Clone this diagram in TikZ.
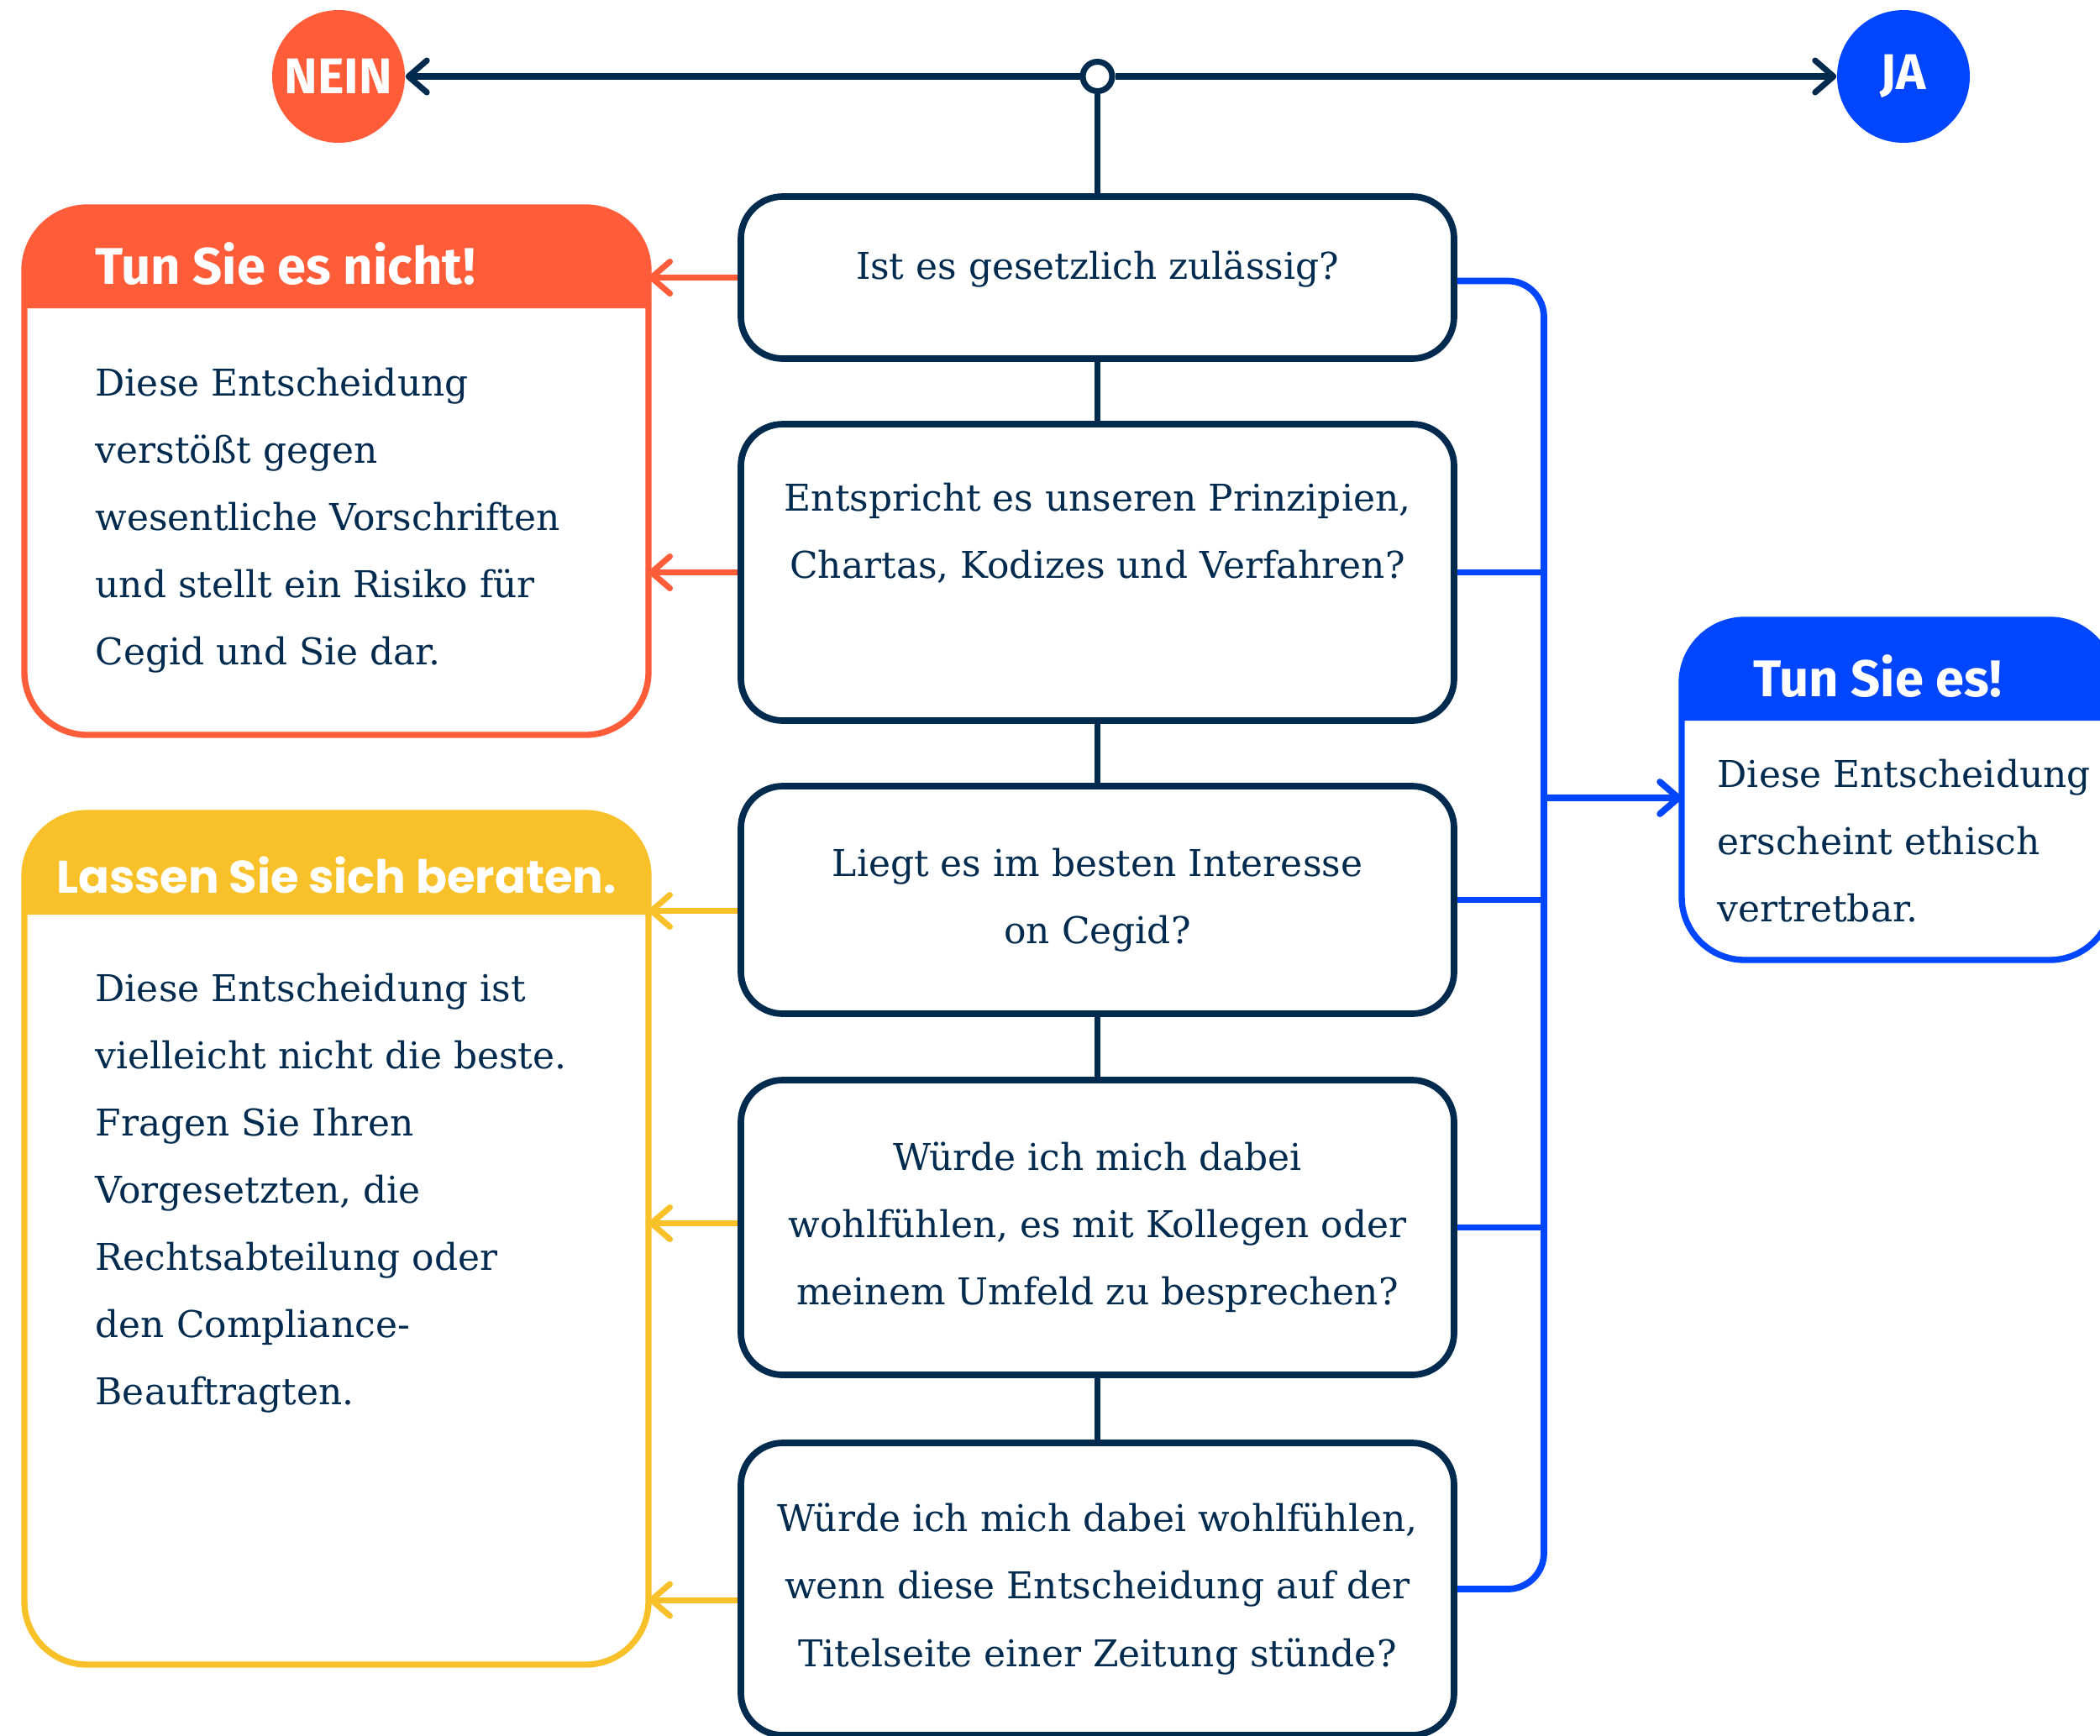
\documentclass[tikz,border=0pt]{standalone}
\usepackage{fontspec}
\setmainfont{DejaVu Serif}
\newfontfamily\headfont{Fira Sans}
\newfontfamily\roundfont{Poppins}
\usepackage{tikz}
\usetikzlibrary{arrows.meta}
\definecolor{navy}{RGB}{0,43,79}
\definecolor{nored}{RGB}{255,92,57}
\definecolor{advyellow}{RGB}{248,193,42}
\definecolor{yesblue}{RGB}{0,70,255}
\tikzstyle{question} = [rectangle, rounded corners=0.5cm, minimum width=8.49cm, draw=navy, line width=2.2pt, text=navy, align=center, font=\fontsize{12.5}{22.8}\selectfont]
\tikzstyle{sidebox}  = [rectangle, rounded corners=0.75cm, line width=2.1pt, outer sep=0pt]
\tikzstyle{answer}   = [circle, minimum size=1.58cm, inner sep=0pt, text=white, font=\headfont\bfseries\fontsize{17}{20}\selectfont]
\tikzstyle{title}    = [anchor=west, inner sep=0pt, text=white, font=\headfont\bfseries\fontsize{17.5}{20}\selectfont]
\tikzstyle{bodytext} = [anchor=north west, inner sep=0pt, text=navy, align=left, font=\fontsize{12.5}{22.8}\selectfont]
\tikzstyle{link}     = [navy, line width=2.1pt]
\tikzstyle{yesline}  = [yesblue, line width=2.2pt]
\tikzstyle{arrow}    = [line width=2pt, ->, >={Straight Barb[length=2.2mm, width=3.8mm, round]}]

\begin{document}
\begin{tikzpicture}[]
      \useasboundingbox (0,0) rectangle (25,-20.66);
      % Nodes
      %% Decision at the top
      \node (junction)    [circle, draw=navy, line width=2pt, fill=white, minimum size=0.35cm, inner sep=0pt] at (13.065,-0.91) {};
      \node (nein_circle) [answer, fill=nored]   at (4.03,-0.91)  {NEIN};
      \node (ja_circle)   [answer, fill=yesblue] at (22.66,-0.91) {JA};
      %% Questions
      \node (q_legal)      [question, minimum height=1.93cm, text depth=0.3cm] at (13.065,-3.305) {Ist es gesetzlich zulässig?};
      \node (q_principles) [question, minimum height=3.53cm, text depth=1cm, below of=q_legal, yshift=-2.51cm] {Entspricht es unseren Prinzipien,\\Chartas, Kodizes und Verfahren?};
      \node (q_interest)   [question, minimum height=2.71cm, below of=q_principles, yshift=-2.90cm] {Liegt es im besten Interesse\\on Cegid?};
      \node (q_colleagues) [question, minimum height=3.51cm, below of=q_interest, yshift=-2.90cm] {Würde ich mich dabei\\wohlfühlen, es mit Kollegen oder\\meinem Umfeld zu besprechen?};
      \node (q_newspaper)  [question, minimum height=3.48cm, below of=q_colleagues, yshift=-3.305cm] {Würde ich mich dabei wohlfühlen,\\wenn diese Entscheidung auf der\\Titelseite einer Zeitung stünde?};
      %% Answers
      \node (no_box)     [sidebox, draw=nored, minimum width=7.43cm, minimum height=6.28cm] at (4.005,-5.61) {};
      \node (advice_box) [sidebox, draw=advyellow, minimum width=7.43cm, minimum height=10.14cm] at (4.005,-14.75) {};
      \node (yes_box)    [sidebox, draw=yesblue, minimum width=5.13cm, minimum height=4.05cm] at (22.585,-9.405) {};
      \fill[nored] ([yshift=-1.2cm]no_box.north west) [rounded corners=0.75cm] -- (no_box.north west) -- (no_box.north east) [sharp corners] -- ([yshift=-1.2cm]no_box.north east) -- cycle;
      \fill[advyellow] ([yshift=-1.21cm]advice_box.north west) [rounded corners=0.75cm] -- (advice_box.north west) -- (advice_box.north east) [sharp corners] -- ([yshift=-1.21cm]advice_box.north east) -- cycle;
      \fill[yesblue] ([yshift=-1.2cm]yes_box.north west) [rounded corners=0.75cm] -- (yes_box.north west) -- (yes_box.north east) [sharp corners] -- ([yshift=-1.2cm]yes_box.north east) -- cycle;
      \node (no_title)     [title] at ([xshift=0.84cm, yshift=-0.67cm]no_box.north west) {Tun Sie es nicht!};
      \node (advice_title) [title, anchor=center, font=\roundfont\bfseries\fontsize{15.5}{18}\selectfont] at ([yshift=-0.74cm]advice_box.north) {Lassen Sie sich beraten.};
      \node (yes_title)    [title] at ([xshift=0.85cm, yshift=-0.67cm]yes_box.north west) {Tun Sie es!};
      \node (no_text)     [bodytext] at ([xshift=0.84cm, yshift=-1.9cm]no_box.north west) {Diese Entscheidung\\verstößt gegen\\wesentliche Vorschriften\\und stellt ein Risiko für\\Cegid und Sie dar.};
      \node (advice_text) [bodytext] at ([xshift=0.84cm, yshift=-1.9cm]advice_box.north west) {Diese Entscheidung ist\\vielleicht nicht die beste.\\Fragen Sie Ihren\\Vorgesetzten, die\\Rechtsabteilung oder\\den Compliance-\\Beauftragten.};
      \node (yes_text)    [bodytext] at ([xshift=0.42cm, yshift=-1.65cm]yes_box.north west) {Diese Entscheidung\\erscheint ethisch\\vertretbar.};
      \coordinate (yes_bus) at (18.38,-9.50);

      % % Arrows
      \draw [arrow, navy] (junction) -- (nein_circle);
      \draw [arrow, navy] (junction) -- (ja_circle);
      \draw [link] (junction) -- (q_legal);
      \draw [link] (q_legal) -- (q_principles);
      \draw [link] (q_principles) -- (q_interest);
      \draw [link] (q_interest) -- (q_colleagues);
      \draw [link] (q_colleagues) -- (q_newspaper);
      \draw [arrow, nored] (q_legal.west) -- (q_legal.west -| no_box.east);
      \draw [arrow, nored] (q_principles.west) -- (q_principles.west -| no_box.east);
      \draw [arrow, advyellow] ([yshift=-0.13cm]q_interest.west) -- ([yshift=-0.13cm]q_interest.west -| advice_box.east);
      \draw [arrow, advyellow] ([yshift=0.05cm]q_colleagues.west) -- ([yshift=0.05cm]q_colleagues.west -| advice_box.east);
      \draw [arrow, advyellow] ([yshift=-0.13cm]q_newspaper.west) -- ([yshift=-0.13cm]q_newspaper.west -| advice_box.east);
      \draw [yesline, rounded corners=0.43cm] ([yshift=-0.04cm]q_legal.east) -| (yes_bus) |- (q_newspaper.east);
      \draw [yesline] (q_principles.east) -- (q_principles.east -| yes_bus);
      \draw [yesline] (q_interest.east) -- (q_interest.east -| yes_bus);
      \draw [yesline] (q_colleagues.east) -- (q_colleagues.east -| yes_bus);
      \draw [arrow, yesblue, line width=2.2pt] (yes_bus) -- (yes_bus -| yes_box.west);
    \end{tikzpicture}
\end{document}
